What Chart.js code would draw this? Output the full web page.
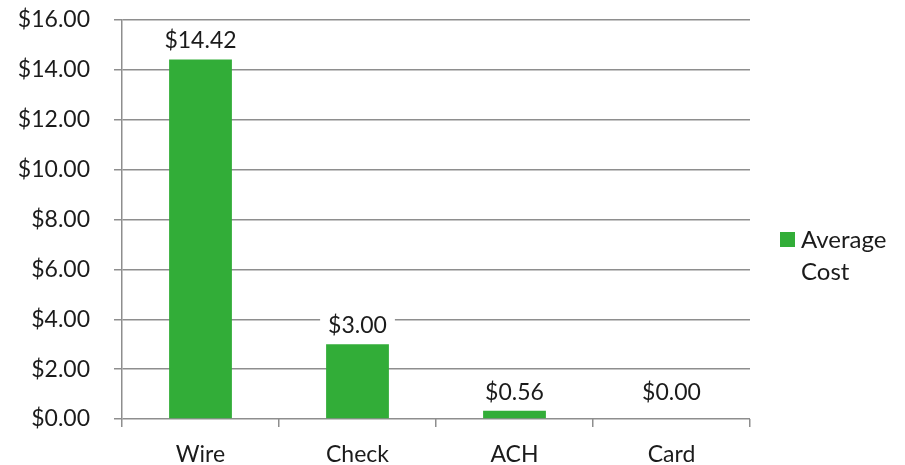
<!DOCTYPE html>
<html>
<head>
<meta charset="utf-8">
<script src="https://cdn.jsdelivr.net/npm/chart.js@4"></script>
<style>
  html, body { margin: 0; padding: 0; background: #fff; }
  #wrap { width: 905px; height: 465px; }
</style>
</head>
<body>
<div id="wrap"><canvas id="chart" width="905" height="465"></canvas></div>
<script>
var categories = ["Wire", "Check", "ACH", "Card"];
var costs = [14.42, 3.0, 0.33, 0];
var costLabels = ["$14.42", "$3.00", "$0.56", "$0.00"];
var legendLines = ["Average", "Cost"];

var green = "#32AD38";
var gridGray = "#8e8e8e";
var textColor = "#1b1b1b";
var fontFamily = "Lato, 'Open Sans', sans-serif";
var fontSize = 23;

Chart.defaults.font.family = fontFamily;
Chart.defaults.font.size = fontSize;
Chart.defaults.color = textColor;

// data labels with a white box behind them, like Excel
var valueLabels = {
  id: "valueLabels",
  afterDatasetsDraw: function (chart) {
    var ctx = chart.ctx;
    var meta = chart.getDatasetMeta(0);
    var zeroY = chart.scales.y.getPixelForValue(0);
    ctx.save();
    ctx.font = fontSize + "px " + fontFamily;
    ctx.textAlign = "center";
    ctx.textBaseline = "alphabetic";
    meta.data.forEach(function (bar, i) {
      var text = costLabels[i];
      var base = Math.min(bar.y, zeroY - 8) - 11;
      var w = ctx.measureText(text).width;
      ctx.fillStyle = "#fff";
      ctx.fillRect(bar.x - w / 2 - 8, base - 24, w + 16, 32);
      ctx.fillStyle = textColor;
      ctx.fillText(text, bar.x, base);
    });
    ctx.restore();
  },
};

var sideLegend = {
  id: "sideLegend",
  afterDraw: function (chart) {
    var ctx = chart.ctx;
    var x = chart.chartArea.right + 30;
    var y = 232;
    ctx.save();
    ctx.fillStyle = green;
    ctx.fillRect(x, y, 15, 15);
    ctx.fillStyle = textColor;
    ctx.font = "24px " + fontFamily;
    ctx.textBaseline = "alphabetic";
    legendLines.forEach(function (line, i) {
      ctx.fillText(line, x + 21, y + 16 + i * 32);
    });
    ctx.restore();
  },
};

new Chart(document.getElementById("chart"), {
  type: "bar",
  data: {
    labels: categories,
    datasets: [
      {
        label: legendLines.join(" "),
        data: costs,
        backgroundColor: green,
        barPercentage: 1,
        categoryPercentage: 0.4,
      },
    ],
  },
  options: {
    responsive: false,
    animation: false,
    layout: {
      padding: { top: 20, right: 155, left: 0, bottom: 0 },
    },
    plugins: {
      legend: { display: false },
      tooltip: { enabled: false },
    },
    scales: {
      x: {
        grid: {
          drawOnChartArea: false,
          drawTicks: true,
          tickLength: 8,
          color: gridGray,
          lineWidth: 1.5,
        },
        border: { display: false },
        ticks: { padding: 14, color: textColor },
        afterFit: function (scale) {
          scale.height = 46;
        },
      },
      y: {
        min: 0,
        max: 16,
        ticks: {
          stepSize: 2,
          padding: 24,
          color: textColor,
          callback: function (v) {
            return "$" + v.toFixed(2);
          },
        },
        grid: {
          color: gridGray,
          lineWidth: 1.5,
          tickLength: 8,
        },
        border: { display: true, color: gridGray, width: 1.5 },
        afterFit: function (scale) {
          scale.width = 122;
          scale.paddingTop = 14;
          scale.paddingBottom = 14;
        },
      },
    },
  },
  plugins: [valueLabels, sideLegend],
});
</script>
</body>
</html>
